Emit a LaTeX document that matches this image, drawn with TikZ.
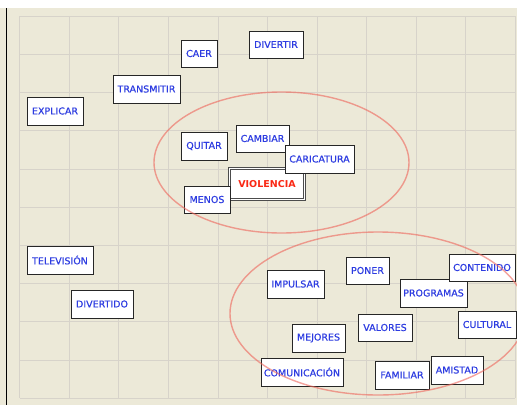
\documentclass[tikz,border=0pt]{standalone}
\usepackage{fontspec}
\setsansfont{DejaVu Sans}
\newfontfamily\wordfont{DejaVu Sans}[FakeBold=0.5]
\usetikzlibrary{shadows}

\definecolor{panel}{RGB}{236,233,216}
\definecolor{gridline}{RGB}{215,211,202}
\definecolor{wordblue}{RGB}{45,60,225}
\definecolor{hotred}{RGB}{250,40,20}
\definecolor{ring}{RGB}{238,100,90}

\begin{document}
\begin{tikzpicture}[x=1pt,y=-1pt]

		\tikzstyle{word}=[rectangle,draw=black!85,fill=white,text=wordblue,
			font=\wordfont\fontsize{9.5}{10}\selectfont,minimum height=27.5pt,inner xsep=1pt,
			drop shadow={shadow xshift=0.9pt,shadow yshift=-0.9pt,fill=black!50,opacity=1}]
		\tikzstyle{key word}=[rectangle,fill=white,text=hotred,
			font=\sffamily\bfseries\fontsize{9.5}{10}\selectfont,
			draw=black!70,line width=0.5pt,double=white,double distance=1.4pt,
			minimum width=75pt,minimum height=31pt]
		\tikzstyle{cluster}=[ring,line width=1.4pt,opacity=.6]

		% panel and grid
		\useasboundingbox (0,0) rectangle (517,405);
		\fill[white] (0,0) rectangle (517,8);
		\fill[panel] (0,8) rectangle (517,405);
		\draw[line width=1.3pt] (6.5,8) -- (6.5,405);
		\foreach \i in {0,...,10}
			\draw[gridline] (19.5+49.55*\i,16) -- ++(0,382);
		\foreach \j in {0,...,10}
			\draw[gridline] (19.5,16+38.2*\j) -- ++(495.5,0);

		% words
		\node [word, minimum width=36pt] (caer) at (199,53.5) {CAER};
		\node [word, minimum width=54pt] (divertir) at (276,44.5) {DIVERTIR};
		\node [word, minimum width=67pt] (transmitir) at (146.5,89) {TRANSMITIR};
		\node [word, minimum width=56pt] (explicar) at (55,111) {EXPLICAR};
		\node [word, minimum width=46pt] (quitar) at (204,146) {QUITAR};
		\node [word, minimum width=53pt] (cambiar) at (262.5,138.5) {CAMBIAR};
		\node [key word] (violencia) at (267,184) {VIOLENCIA};
		\node [word, minimum width=69pt] (caricatura) at (319.5,159) {CARICATURA};
		\node [word, minimum width=46pt] (menos) at (207,199.5) {MENOS};
		\node [word, minimum width=66pt] (television) at (60,260) {TELEVISIÓN};
		\node [word, minimum width=62pt] (divertido) at (102,304) {DIVERTIDO};
		\node [word, minimum width=57pt] (impulsar) at (295.5,284) {IMPULSAR};
		\node [word, minimum width=43pt] (poner) at (367.5,270.5) {PONER};
		\node [word, minimum width=67pt] (programas) at (433.5,293) {PROGRAMAS};
		\node [word, minimum width=66pt] (contenido) at (482,267.5) {CONTENIDO};
		\node [word, minimum width=58pt] (cultural) at (487,324.5) {CULTURAL};
		\node [word, minimum width=54pt] (valores) at (385,327.5) {VALORES};
		\node [word, minimum width=53pt] (mejores) at (318.5,338) {MEJORES};
		\node [word, minimum width=82pt] (comunicacion) at (302,372) {COMUNICACIÓN};
		\node [word, minimum width=54pt] (familiar) at (402,375) {FAMILIAR};
		\node [word, minimum width=52pt] (amistad) at (457,370) {AMISTAD};

		% clusters
		\draw[cluster] (281.5,162.5) ellipse [x radius=127.5pt,y radius=70.5pt];
		\draw[cluster] (378,313.5) ellipse [x radius=148pt,y radius=81.5pt];
	\end{tikzpicture}
\end{document}
